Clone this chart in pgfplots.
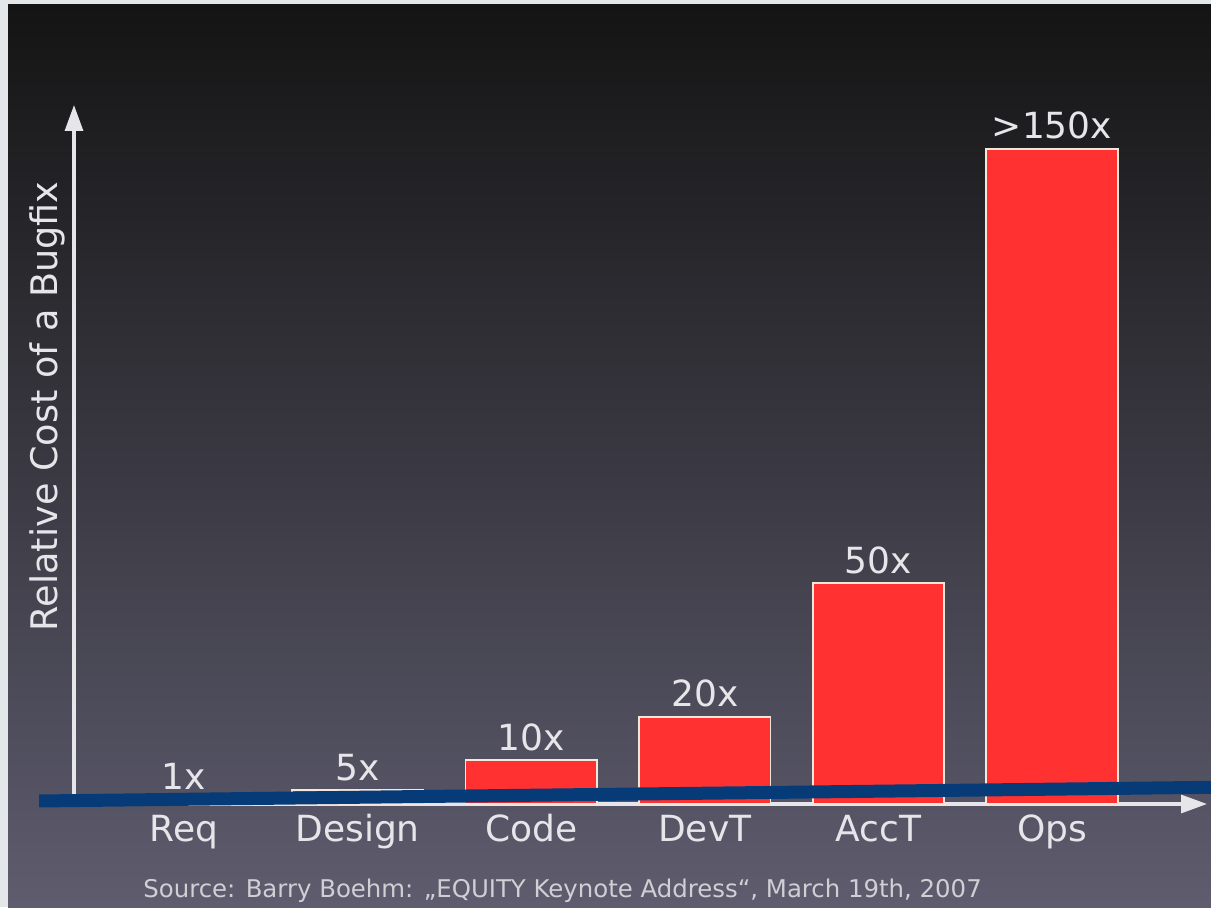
\documentclass[border=0pt]{standalone}
\usepackage{fontspec}
\setmainfont{DejaVu Sans}
\usepackage{pgfplots}
\pgfplotsset{compat=1.18}
\usepackage{pgfplotstable}
\usetikzlibrary{arrows.meta}

\definecolor{frame}{HTML}{E3E7EA}
\definecolor{bgtop}{HTML}{141414}
\definecolor{bgmid}{HTML}{2D2C35}
\definecolor{bgbot}{HTML}{5E5C6E}
\definecolor{barred}{HTML}{FF3131}
\definecolor{baredge}{HTML}{F4E8DC}
\definecolor{txt}{HTML}{E6E6EA}
\definecolor{srcgray}{HTML}{CFCFD4}
\definecolor{navy}{HTML}{073B78}

% relative cost of a bugfix per phase (bar height, label)
\pgfplotstableread{
x y lab
0 1 1x
1 3.2 5x
2 10 10x
3 20 20x
4 50.5 50x
5 150 >150x
}\costs

\begin{document}
\begin{tikzpicture}[x=1pt,y=1pt]
\fill[frame] (0,0) rectangle (605.5,453.5);
\shade[top color=bgtop, middle color=bgmid, bottom color=bgbot] (4,0) rectangle (605.5,451);
\useasboundingbox (0,0) rectangle (605.5,453.5);
\begin{axis}[
    at={(37pt,51.5pt)}, anchor=south west,
    scale only axis, width=566.5pt, height=349.5pt,
    xmin=-0.634, xmax=5.893, ymin=0, ymax=160,
    axis lines=left,
    axis line style={draw=txt, line width=1.6pt, -{Triangle[width=9pt,length=13pt]}},
    xtick={0,...,5},
    xticklabels={Req,Design,Code,DevT,AccT,Ops},
    ytick=\empty,
    major tick length=0pt,
    tick label style={font=\fontsize{18}{21}\selectfont, text=txt},
    xticklabel style={anchor=base, inner sep=0pt, yshift=-18.5pt},
    ylabel={Relative Cost of a Bugfix},
    every axis y label/.style={at={(axis description cs:-0.0233,0.569)},
        rotate=90, anchor=center, inner sep=0pt,
        font=\fontsize{18.3}{21}\selectfont, text=txt},
    clip=false,
]
\addplot[ybar, bar width=0.757, fill=barred, draw=baredge, line width=0.9pt,
    point meta=explicit symbolic,
    nodes near coords,
    every node near coord/.append style={anchor=base, yshift=5pt, inner sep=0pt,
        font=\fontsize{18}{21}\selectfont, text=txt}]
    table[x=x, y=y, meta=lab] {\costs};
% slanted blue overlay line
\addplot[draw=navy, line width=6.5pt, line cap=butt, forget plot]
    coordinates {(-0.835,0.69) (6.0,3.86)};
\end{axis}
\node[anchor=base west, inner sep=0pt, font=\fontsize{12.2}{14}\selectfont, text=srcgray]
    at (71.5,5) {Source: Barry Boehm: „EQUITY Keynote Address“, March 19th, 2007};
\end{tikzpicture}
\end{document}
